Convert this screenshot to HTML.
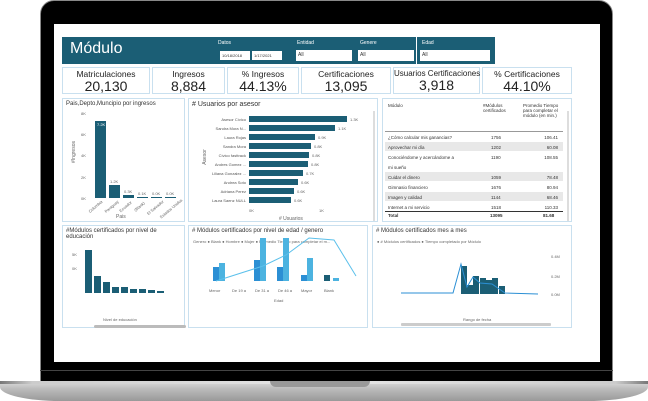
<!DOCTYPE html>
<html><head><meta charset="utf-8"><style>
*{margin:0;padding:0;box-sizing:border-box}
body{width:648px;height:401px;background:#fff;position:relative;overflow:hidden;font-family:"Liberation Sans",sans-serif;color:#333}
.a{position:absolute}
.p{position:absolute;border:1px solid #c9e0ef;background:#fff}
.k{text-align:center;font-size:8.5px;color:#222;white-space:nowrap;padding-top:1px}
.k b{display:block;font-weight:normal;font-size:14px;line-height:15px}
.t{font-size:7px;color:#333;position:absolute;left:3px;top:2px}
.s{font-size:4px;color:#666;position:absolute;white-space:nowrap}
.r{position:absolute;font-size:4px;color:#555;text-align:right;width:55px;white-space:nowrap}
</style></head><body>
<!-- laptop -->
<div class="a" style="left:40px;top:0;width:573px;height:382px;background:#000;border-radius:14px 14px 0 0;border:1px solid #888"></div>
<div class="a" style="left:40px;top:370px;width:573px;height:1px;background:#444"></div>
<div class="a" style="left:0;top:381px;width:648px;height:20px;background:linear-gradient(#ddd,#bbb 40%,#999);border-radius:0 0 60px 60px/0 0 14px 14px"></div>
<div class="a" style="left:0;top:381px;width:648px;height:3px;background:linear-gradient(90deg,#777,#ccc 5%,#e6e6e6 50%,#ccc 95%,#777)"></div>
<div class="a" style="left:270px;top:381px;width:100px;height:6px;background:#999;border-radius:0 0 8px 8px"></div>
<div class="a" style="left:54px;top:24px;width:546px;height:338px;background:#fff"></div>
<!-- header -->
<div class="a" style="left:62px;top:37px;width:433px;height:27px;background:#1b5e75"></div>
<div class="a" style="left:70px;top:40px;font-size:16px;color:#fff">Módulo</div>
<div class="a" style="left:218px;top:40px;font-size:5px;color:#fff">Datos</div>
<div class="a" style="left:220px;top:51px;width:30px;height:9px;background:#fff;font-size:4px;padding:2px">10/18/2018</div>
<div class="a" style="left:252px;top:51px;width:30px;height:9px;background:#fff;font-size:4px;padding:2px">1/17/2021</div>
<div class="a" style="left:297px;top:40px;font-size:5px;color:#fff">Entidad</div>
<div class="a" style="left:296px;top:50px;width:56px;height:11px;background:#fff;font-size:5px;padding:2px">All</div>
<div class="a" style="left:360px;top:40px;font-size:5px;color:#fff">Genere</div>
<div class="a" style="left:358px;top:50px;width:56px;height:11px;background:#fff;font-size:5px;padding:2px">All</div>
<div class="a" style="left:416px;top:37px;width:1px;height:27px;background:#fff"></div>
<div class="a" style="left:422px;top:40px;font-size:5px;color:#fff">Edad</div>
<div class="a" style="left:420px;top:50px;width:70px;height:11px;background:#fff;font-size:5px;padding:2px">All</div>
<!-- KPIs -->
<div class="p k" style="left:62px;top:67px;width:88px;height:27px">Matriculaciones<b>20,130</b></div>
<div class="p k" style="left:152px;top:67px;width:73px;height:27px">Ingresos<b>8,884</b></div>
<div class="p k" style="left:227px;top:67px;width:72px;height:27px">% Ingresos<b>44.13%</b></div>
<div class="p k" style="left:301px;top:67px;width:90px;height:27px">Certificaciones<b>13,095</b></div>
<div class="p k" style="left:393px;top:67px;width:87px;height:27px;font-size:8px">Usuarios Certificaciones<b>3,918</b></div>
<div class="p k" style="left:482px;top:67px;width:90px;height:27px">% Certificaciones<b>44.10%</b></div>
<!-- chart 1 -->
<div class="p" style="left:62px;top:98px;width:123px;height:124px">
<div class="t" style="font-size:6px">Pais,Depto,Muncipio por ingresos</div>
<div class="s" style="left:18px;top:12px">8K</div><div class="s" style="left:18px;top:33px">6K</div><div class="s" style="left:18px;top:54px">4K</div><div class="s" style="left:18px;top:76px">2K</div><div class="s" style="left:18px;top:97px">0K</div>
<div class="a" style="left:32px;top:22px;width:11px;height:77px;background:#1b5e75"></div>
<div class="s" style="left:34px;top:23px;color:#fff">7.2K</div>
<div class="a" style="left:46px;top:86px;width:11px;height:13px;background:#1b5e75"></div>
<div class="s" style="left:47px;top:80px">1.2K</div>
<div class="a" style="left:60px;top:96px;width:11px;height:3px;background:#1b5e75"></div>
<div class="s" style="left:61px;top:90px">0.3K</div>
<div class="a" style="left:74px;top:98px;width:11px;height:1px;background:#1b5e75"></div>
<div class="s" style="left:75px;top:92px">0.1K</div>
<div class="a" style="left:88px;top:98px;width:11px;height:1px;background:#1b5e75"></div>
<div class="s" style="left:89px;top:92px">0.0K</div>
<div class="a" style="left:102px;top:98px;width:11px;height:1px;background:#1b5e75"></div>
<div class="s" style="left:103px;top:92px">0.0K</div>
<div class="s" style="left:0px;top:50px;transform:rotate(-90deg);font-size:5px">#Ingresos</div>
<div class="s" style="left:53px;top:115px;font-size:5px">Pais</div>
<div class="s" style="left:24px;top:105px;transform:rotate(-40deg)">Colombia</div>
<div class="s" style="left:40px;top:105px;transform:rotate(-40deg)">Paraguay</div>
<div class="s" style="left:55px;top:105px;transform:rotate(-40deg)">Ecuador</div>
<div class="s" style="left:70px;top:105px;transform:rotate(-40deg)">(Blank)</div>
<div class="s" style="left:82px;top:106px;transform:rotate(-40deg)">El Salvador</div>
<div class="s" style="left:94px;top:107px;transform:rotate(-40deg)">Estados Unidos</div>
</div>
<!-- chart 2 -->
<div class="p" style="left:188px;top:98px;width:190px;height:124px">
<div class="t"># Usuarios por asesor</div>
<div class="r" style="left:2px;top:18px">Asesor Cívico</div>
<div class="r" style="left:2px;top:27px">Sandra Mora N...</div>
<div class="r" style="left:2px;top:36px">Laura Rojas</div>
<div class="r" style="left:2px;top:45px">Sandra Mora</div>
<div class="r" style="left:2px;top:54px">Cívico fasttrack</div>
<div class="r" style="left:2px;top:63px">Andres Gomez ...</div>
<div class="r" style="left:2px;top:72px">Liliana Gonzalez ...</div>
<div class="r" style="left:2px;top:81px">Andrea Soto</div>
<div class="r" style="left:2px;top:90px">Adriana Perez</div>
<div class="r" style="left:2px;top:99px">Laura Saenz NULL</div>
<div class="a" style="left:60px;top:17px;width:98px;height:6px;background:#1b5e75"></div><div class="s" style="left:161px;top:18px">1.3K</div>
<div class="a" style="left:60px;top:26px;width:86px;height:6px;background:#1b5e75"></div><div class="s" style="left:149px;top:27px">1.1K</div>
<div class="a" style="left:60px;top:35px;width:66px;height:6px;background:#1b5e75"></div><div class="s" style="left:129px;top:36px">0.9K</div>
<div class="a" style="left:60px;top:44px;width:62px;height:6px;background:#1b5e75"></div><div class="s" style="left:125px;top:45px">0.8K</div>
<div class="a" style="left:60px;top:53px;width:60px;height:6px;background:#1b5e75"></div><div class="s" style="left:123px;top:54px">0.8K</div>
<div class="a" style="left:60px;top:62px;width:59px;height:6px;background:#1b5e75"></div><div class="s" style="left:122px;top:63px">0.8K</div>
<div class="a" style="left:60px;top:71px;width:54px;height:6px;background:#1b5e75"></div><div class="s" style="left:117px;top:72px">0.7K</div>
<div class="a" style="left:60px;top:80px;width:49px;height:6px;background:#1b5e75"></div><div class="s" style="left:112px;top:81px">0.6K</div>
<div class="a" style="left:60px;top:89px;width:45px;height:6px;background:#1b5e75"></div><div class="s" style="left:108px;top:90px">0.6K</div>
<div class="a" style="left:60px;top:98px;width:42px;height:6px;background:#1b5e75"></div><div class="s" style="left:105px;top:99px">0.6K</div>
<div class="s" style="left:8px;top:55px;transform:rotate(-90deg);font-size:5px">Asesor</div>
<div class="s" style="left:60px;top:109px">0K</div><div class="s" style="left:130px;top:109px">1K</div>
<div class="s" style="left:90px;top:117px;font-size:5px"># Usuarios</div>
<div class="a" style="left:184px;top:12px;width:2px;height:110px;background:#ddd"></div>
</div>
<!-- table -->
<div class="p" style="left:382px;top:98px;width:190px;height:124px;font-size:4.5px">
<div class="a" style="left:5px;top:4px">Módulo</div>
<div class="a" style="left:100px;top:4px">#Módulos<br>certificados</div>
<div class="a" style="left:140px;top:4px">Promedio Tiempo<br>para completar el<br>módulo (en min.)</div>
<div class="a" style="left:2px;top:32px;width:178px;height:1px;background:#999"></div>
<div class="a" style="left:2px;top:43px;width:178px;height:9px;background:#e8e8e8"></div>
<div class="a" style="left:2px;top:73px;width:178px;height:9px;background:#e8e8e8"></div>
<div class="a" style="left:2px;top:93px;width:178px;height:9px;background:#e8e8e8"></div>
<div class="a" style="left:5px;top:34px;line-height:10px">¿Cómo calcular mis ganancias?<br>Aprovechar mi día<br>Conociéndome y acercándome a<br>mi sueño<br>Cuidar el dinero<br>Gimnasio financiero<br>Imagen y calidad<br>Internet a mi servicio</div>
<div class="a" style="left:108px;top:34px;line-height:10px">1756<br>1202<br>1190<br><br>1059<br>1676<br>1144<br>1518</div>
<div class="a" style="left:150px;top:34px;line-height:10px;text-align:right;width:25px">106.41<br>60.08<br>108.55<br><br>78.48<br>80.94<br>68.46<br>110.33</div>
<div class="a" style="left:2px;top:112px;width:178px;height:1px;background:#333"></div>
<div class="a" style="left:5px;top:114px;font-weight:bold">Total</div>
<div class="a" style="left:107px;top:114px;font-weight:bold">13095</div>
<div class="a" style="left:160px;top:114px;font-weight:bold">81.68</div>
<div class="a" style="left:184px;top:12px;width:2px;height:110px;background:#ddd"></div>
</div>
<!-- row 2 -->
<div class="p" style="left:62px;top:225px;width:123px;height:103px">
<div class="t" style="font-size:6px">#Módulos certificados por nivel de<br>educación</div>
<div class="s" style="left:9px;top:26px">5K</div><div class="s" style="left:9px;top:40px">0K</div>
<div class="a" style="left:22px;top:24px;width:7px;height:43px;background:#1b5e75"></div>
<div class="a" style="left:31px;top:50px;width:7px;height:17px;background:#1b5e75"></div>
<div class="a" style="left:40px;top:56px;width:7px;height:11px;background:#1b5e75"></div>
<div class="a" style="left:49px;top:61px;width:7px;height:6px;background:#1b5e75"></div>
<div class="a" style="left:58px;top:61px;width:7px;height:6px;background:#1b5e75"></div>
<div class="a" style="left:67px;top:63px;width:7px;height:4px;background:#1b5e75"></div>
<div class="a" style="left:76px;top:63px;width:7px;height:4px;background:#1b5e75"></div>
<div class="a" style="left:85px;top:64px;width:7px;height:3px;background:#1b5e75"></div>
<div class="a" style="left:94px;top:65px;width:7px;height:2px;background:#1b5e75"></div>
<div class="s" style="left:40px;top:91px">Nivel de educación</div>
<div class="a" style="left:31px;top:99px;width:92px;height:3px;background:#bbb;border-radius:2px"></div>
</div>
<div class="p" style="left:188px;top:225px;width:180px;height:103px">
<div class="t" style="font-size:6px"># Módulos certificados por nivel de edad / genero</div>
<div class="s" style="left:4px;top:13px">Genero ● Blank ● Hombre ● Mujer ● Promedio Tiempo para completar el m...</div>
<svg class="a" style="left:0;top:0" width="180" height="103">
<g fill="#2b8fd4"><rect x="24" y="41" width="6" height="14"/><rect x="65" y="34" width="6" height="21"/><rect x="88" y="41" width="6" height="14"/><rect x="112" y="49" width="6" height="6"/></g>
<g fill="#4cb3e0"><rect x="30" y="37" width="6" height="18"/><rect x="71" y="12" width="6" height="43"/><rect x="94" y="12" width="6" height="43"/><rect x="118" y="32" width="6" height="23"/><rect x="144" y="52" width="6" height="3"/></g>
<rect x="135" y="49" width="6" height="6" fill="#1b5e75"/>
<polyline points="27,55 74,40 97,29 120,12 145,14 167,50" fill="none" stroke="#5bc0eb" stroke-width="1"/>
</svg>
<div class="s" style="left:20px;top:62px">Menor</div><div class="s" style="left:43px;top:62px">De 19 a</div><div class="s" style="left:66px;top:62px">De 31 a</div><div class="s" style="left:89px;top:62px">De 46 a</div><div class="s" style="left:112px;top:62px">Mayor</div><div class="s" style="left:135px;top:62px">Blank</div>
<div class="s" style="left:85px;top:72px">Edad</div>
</div>
<div class="p" style="left:372px;top:225px;width:200px;height:103px">
<div class="t" style="font-size:6px"># Módulos certificados mes a mes</div>
<div class="s" style="left:4px;top:13px">● # Módulos certificados ● Tiempo completado por Módulo</div>
<svg class="a" style="left:0;top:0" width="200" height="103">
<g fill="#1b5e75"><rect x="88" y="40" width="6" height="28"/><rect x="94" y="59" width="6" height="9"/><rect x="100" y="50" width="6" height="18"/><rect x="107" y="52" width="6" height="16"/><rect x="113" y="54" width="6" height="14"/><rect x="119" y="52" width="6" height="16"/><rect x="126" y="60" width="6" height="8"/></g>
<polyline points="28,67 80,67 88,38 94,61 100,51 107,57 119,58 132,67 165,68" fill="none" stroke="#2b8fd4" stroke-width="1"/>
<rect x="28" y="97" width="150" height="3" fill="#ccc" rx="1"/>
</svg>
<div class="s" style="left:90px;top:91px">Rango de fecha</div>
<div class="s" style="left:178px;top:28px">0.4M</div><div class="s" style="left:178px;top:48px">0.2M</div><div class="s" style="left:178px;top:66px">0.0M</div>
</div>
</body></html>
